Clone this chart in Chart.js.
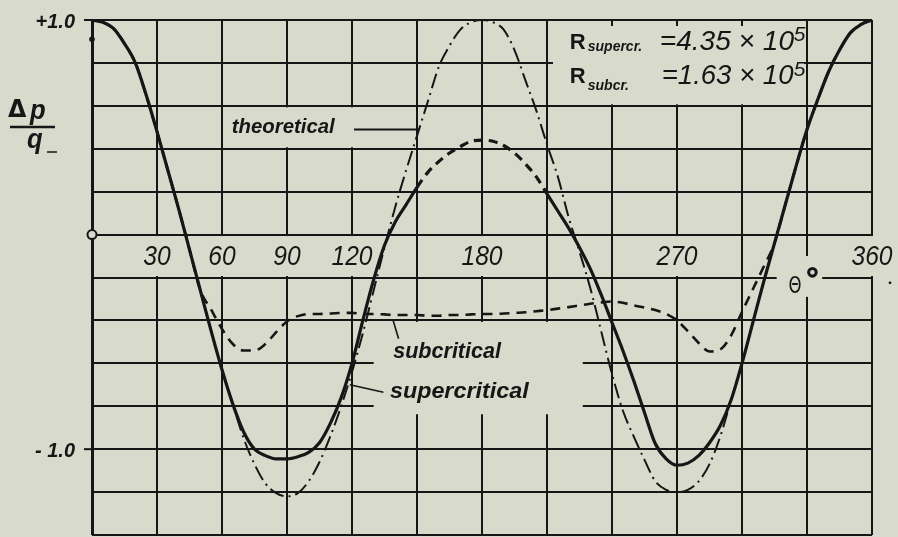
<!DOCTYPE html>
<html>
<head>
<meta charset="utf-8">
<script src="https://cdn.jsdelivr.net/npm/chart.js@4.4.0/dist/chart.umd.min.js"></script>
<style>
  html, body { margin: 0; padding: 0; background: #d8dacb; }
  #wrap { width: 898px; height: 537px; position: relative; }
</style>
</head>
<body>
<div id="wrap"><canvas id="chart" width="898" height="537"></canvas></div>
<script>
// angle around the cylinder, degrees
const theta = [0, 5, 10, 15, 20, 25, 30, 35, 40, 45, 50, 55, 60, 65, 70, 75, 80, 85, 90,
  95, 100, 105, 110, 115, 120, 125, 130, 135, 140, 145, 150, 155, 160, 165, 170, 175, 180,
  185, 190, 195, 200, 205, 210, 215, 220, 225, 230, 235, 240, 245, 250, 255, 260, 265, 270,
  275, 280, 285, 290, 295, 300, 305, 310, 315, 320, 325, 330, 335, 340, 345, 350, 355, 360];

// delta p / q
const supercritical = [1.00, 0.99, 0.96, 0.89, 0.80, 0.65, 0.48, 0.30, 0.12, -0.07, -0.26, -0.45, -0.63, -0.79, -0.92, -1.00, -1.03, -1.045, -1.045,
  -1.035, -1.015, -0.97, -0.88, -0.76, -0.60, -0.40, -0.21, -0.05, 0.06, 0.14, 0.22, 0.29, 0.34, 0.38, 0.41, 0.435, 0.44,
  0.435, 0.415, 0.38, 0.33, 0.27, 0.19, 0.11, 0.03, -0.06, -0.16, -0.28, -0.41, -0.54, -0.68, -0.83, -0.975, -1.045, -1.075,
  -1.065, -1.03, -0.97, -0.89, -0.77, -0.60, -0.41, -0.22, -0.04, 0.14, 0.32, 0.49, 0.63, 0.76, 0.86, 0.94, 0.98, 1.00];

const subcritical = [1.00, 0.99, 0.96, 0.89, 0.80, 0.65, 0.48, 0.30, 0.12, -0.07, -0.26, -0.35, -0.44, -0.51, -0.54, -0.54, -0.51, -0.455, -0.405,
  -0.38, -0.37, -0.37, -0.368, -0.365, -0.365, -0.37, -0.37, -0.372, -0.375, -0.375, -0.375, -0.378, -0.378, -0.375, -0.375, -0.372, -0.37,
  -0.37, -0.368, -0.365, -0.362, -0.357, -0.352, -0.345, -0.338, -0.33, -0.322, -0.316, -0.312, -0.318, -0.33, -0.34, -0.352, -0.37, -0.40,
  -0.45, -0.505, -0.545, -0.535, -0.47, -0.36, -0.255, -0.15, -0.04, 0.14, 0.32, 0.49, 0.63, 0.76, 0.86, 0.94, 0.98, 1.00];

const theoretical = [1.00, 0.99, 0.96, 0.89, 0.80, 0.65, 0.48, 0.30, 0.12, -0.07, -0.26, -0.45, -0.63, -0.79, -0.95, -1.07, -1.16, -1.205, -1.22,
  -1.205, -1.15, -1.06, -0.94, -0.80, -0.64, -0.46, -0.26, -0.06, 0.13, 0.30, 0.46, 0.62, 0.78, 0.88, 0.955, 0.99, 1.00,
  0.99, 0.955, 0.86, 0.72, 0.58, 0.42, 0.27, 0.08, -0.08, -0.25, -0.45, -0.65, -0.82, -0.94, -1.05, -1.15, -1.19, -1.20,
  -1.19, -1.15, -1.07, -0.94, -0.77, -0.60, -0.41, -0.22, -0.04, 0.14, 0.32, 0.49, 0.63, 0.76, 0.86, 0.94, 0.98, 1.00];

const xGrid = [0, 30, 60, 90, 120, 150, 180, 210, 240, 270, 300, 330, 360];
const yGrid = [-1.4, -1.2, -1.0, -0.8, -0.6, -0.4, -0.2, 0, 0.2, 0.4, 0.6, 0.8, 1.0];
const xTickLabels = [30, 60, 90, 120, 180, 270, 360];
const yTickValues = [1.0, -1.0];
const yTickLabels = ['+1.0', '- 1.0'];

const BG = '#d8dacb';
const INK = '#161616';
const FONT = '"Liberation Sans", Arial, sans-serif';

function txt(ctx, s, x, y, font, align = 'left', sx = 1, base = 'middle') {
  ctx.save();
  ctx.font = font;
  ctx.textAlign = align;
  ctx.textBaseline = base;
  ctx.translate(x, y);
  ctx.scale(sx, 1);
  ctx.fillText(s, 0, 0);
  ctx.restore();
}

function line(ctx, x1, y1, x2, y2, w) {
  ctx.beginPath();
  ctx.lineWidth = w;
  ctx.moveTo(x1, y1);
  ctx.lineTo(x2, y2);
  ctx.stroke();
}

const TICK_FONT = 'italic 28px ' + FONT;
const TICK_SX = 0.88;

// paper look: blank spots in the grid for the labels, then the lettering
const paper = {
  id: 'paper',
  beforeDatasetsDraw(chart) {
    const ctx = chart.ctx;
    const X = v => chart.scales.x.getPixelForValue(v);
    const Y = v => chart.scales.y.getPixelForValue(v);
    const box = (x1, y1, x2, y2) => ctx.fillRect(x1, y1, x2 - x1, y2 - y1);
    ctx.save();
    ctx.fillStyle = BG;
    ctx.font = TICK_FONT;
    const bt = Y(0) + 1.5, bb = Y(-0.2) - 1.5;
    xTickLabels.forEach(v => {
      const w = ctx.measureText(String(v)).width * TICK_SX;
      box(X(v) - w / 2 - 5, bt, X(v) + w / 2 + 5, bb);
    });
    box(X(62), Y(0.6) + 1.5, X(120) + 3, Y(0.4) - 1.5);      // theoretical
    box(X(210) + 6, Y(1.0) + 6, X(330) - 3, Y(0.6) - 1.5);   // Reynolds numbers
    box(X(130), Y(-0.4) + 1.5, X(226.5), Y(-0.8) + 8);       // sub/supercritical
    box(X(316), Y(-0.1), X(337), Y(-0.29));                  // theta degree
    ctx.restore();
  },
  afterDatasetsDraw(chart) {
    const ctx = chart.ctx;
    const X = v => chart.scales.x.getPixelForValue(v);
    const Y = v => chart.scales.y.getPixelForValue(v);
    ctx.save();
    ctx.fillStyle = INK;
    ctx.strokeStyle = INK;

    // x labels inside the plot
    const by = (Y(0) + Y(-0.2)) / 2 + 1;
    xTickLabels.forEach(v => txt(ctx, String(v), X(v), by, TICK_FONT, 'center', TICK_SX));

    // y labels with short ticks
    yTickValues.forEach((v, i) => {
      txt(ctx, yTickLabels[i], X(0) - 17, Y(v) + 2, 'bold italic 21px ' + FONT, 'right', 0.95);
      line(ctx, X(0) - 8, Y(v), X(0), Y(v), 2);
    });

    // axis title  Δp / q
    txt(ctx, 'Δ', 8, 110, 'bold 25px "DejaVu Sans", sans-serif', 'left', 0.95);
    txt(ctx, 'p', 30, 112, 'bold italic 27px ' + FONT, 'left', 0.95);
    line(ctx, 10, 127, 55, 127, 2.5);
    txt(ctx, 'q', 27, 141, 'bold italic 27px ' + FONT, 'left', 0.95);
    line(ctx, 47, 152, 57, 152, 1.5);

    // marks on the left axis
    ctx.beginPath();
    ctx.arc(X(0), Y(0.91), 2.8, 0, Math.PI * 2);
    ctx.fill();
    ctx.beginPath();
    ctx.fillStyle = BG;
    ctx.lineWidth = 2;
    ctx.arc(X(0), Y(0), 4.5, 0, Math.PI * 2);
    ctx.fill();
    ctx.stroke();
    ctx.fillStyle = INK;

    // curve labels
    const lf = 'bold italic 21px ' + FONT;
    txt(ctx, 'theoretical', X(64.5), Y(0.5), lf, 'left', 0.97);
    line(ctx, X(120) + 2, Y(0.49), X(151), Y(0.49), 2);
    txt(ctx, 'subcritical', X(139), Y(-0.545), 'bold italic 22px ' + FONT, 'left', 0.98);
    line(ctx, X(139), Y(-0.40), X(141.5), Y(-0.485), 1.6);
    txt(ctx, 'supercritical', X(137.5), Y(-0.735), 'bold italic 22px ' + FONT, 'left', 1.06);
    line(ctx, X(119), Y(-0.70), X(134.5), Y(-0.735), 1.6);

    // Reynolds numbers
    const rx = X(220.5);
    txt(ctx, 'R', rx, Y(0.9) + 1, 'bold 22px ' + FONT, 'left');
    txt(ctx, 'supercr.', rx + 18, Y(0.873), 'bold italic 14px ' + FONT, 'left');
    txt(ctx, '=4.35 × 10', rx + 90, Y(0.895), 'italic 27px ' + FONT, 'left', 1.04);
    txt(ctx, '5', rx + 224, Y(0.93), 'italic 21px ' + FONT, 'left');
    txt(ctx, 'R', rx, Y(0.735), 'bold 22px ' + FONT, 'left');
    txt(ctx, 'subcr.', rx + 18, Y(0.69), 'bold italic 14px ' + FONT, 'left');
    txt(ctx, '=1.63 × 10', rx + 92, Y(0.737), 'italic 27px ' + FONT, 'left', 1.02);
    txt(ctx, '5', rx + 224, Y(0.765), 'italic 21px ' + FONT, 'left');

    // theta degree
    txt(ctx, 'Θ', X(324.5), Y(-0.245), '23px "DejaVu Sans", sans-serif', 'center', 0.72);
    ctx.beginPath();
    ctx.lineWidth = 3;
    ctx.arc(X(332.5), Y(-0.176), 3.8, 0, Math.PI * 2);
    ctx.stroke();
    ctx.beginPath();
    ctx.arc(890, Y(-0.225), 1.4, 0, Math.PI * 2);
    ctx.fill();
    ctx.restore();
  }
};

const pts = vals => theta.map((t, i) => ({ x: t, y: vals[i] }));

new Chart(document.getElementById('chart'), {
  type: 'line',
  data: {
    datasets: [
      {
        label: 'supercritical',
        data: pts(supercritical),
        borderColor: INK,
        borderWidth: 3.2,
        pointRadius: 0,
        cubicInterpolationMode: 'monotone',
        segment: {
          borderDash: c => (c.p0.parsed.x >= 150 && c.p1.parsed.x <= 210) ? [9, 6] : undefined
        }
      },
      {
        label: 'subcritical',
        data: pts(subcritical),
        borderColor: INK,
        borderWidth: 2.6,
        borderDash: [10, 7],
        pointRadius: 0,
        cubicInterpolationMode: 'monotone'
      },
      {
        label: 'theoretical',
        data: pts(theoretical),
        borderColor: INK,
        borderWidth: 2,
        borderDash: [15, 5, 2, 5],
        pointRadius: 0,
        cubicInterpolationMode: 'monotone'
      }
    ]
  },
  options: {
    responsive: false,
    animation: false,
    layout: { padding: { left: 92, right: 26, top: 20, bottom: 2 } },
    plugins: { legend: { display: false }, tooltip: { enabled: false } },
    scales: {
      x: {
        type: 'linear', min: 0, max: 360,
        ticks: { display: false },
        border: { display: false },
        grid: { color: INK, drawTicks: false, lineWidth: c => (c.tick && c.tick.value === 0) ? 3 : 2 },
        afterBuildTicks: s => { s.ticks = xGrid.map(v => ({ value: v })); },
        afterFit: s => { s.height = 0; }
      },
      y: {
        type: 'linear', min: -1.4, max: 1.0,
        ticks: { display: false },
        border: { display: false },
        grid: { color: INK, drawTicks: false, lineWidth: 2 },
        afterBuildTicks: s => { s.ticks = yGrid.map(v => ({ value: v })); },
        afterFit: s => { s.width = 0; }
      }
    }
  },
  plugins: [paper]
});
</script>
</body>
</html>
